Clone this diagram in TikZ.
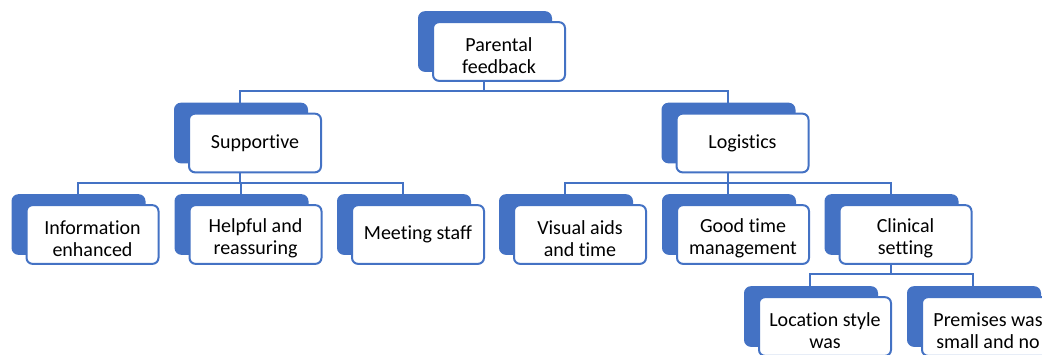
\documentclass[tikz,border=0pt]{standalone}
\usepackage{fontspec}
\setmainfont{Carlito}[Ligatures=NoCommon]
\usetikzlibrary{shadows,calc}
\definecolor{wordblue}{HTML}{4472C4}

\begin{document}
\begin{tikzpicture}[x=0.75pt,y=-0.75pt,
    box/.style={draw=wordblue, line width=1.5pt, fill=white, rounded corners=4.5pt,
        minimum width=99pt, minimum height=44pt, align=center, inner sep=2pt,
        font=\fontsize{15}{16.5}\selectfont,
        copy shadow={shadow xshift=-10.5pt, shadow yshift=7.5pt, fill=wordblue, draw=wordblue}},
    pair/.style={box, text height=33pt},
    link/.style={draw=wordblue, line width=1.5pt}]
    \useasboundingbox (0,0) rectangle (1042,354);
    \clip (0,0) rectangle (1042,354);

    \node at (499,51.5) [pair] (fb) {Parental\\feedback};

    \node at (255,143) [box] (sup) {Supportive};
    \node at (742.5,143) [box] (log) {Logistics};

    \node at (92.5,234.5) [pair] (info) {Information\\enhanced};
    \node at (255.5,234.5) [pair] (help) {Helpful and\\reassuring};
    \node at (418,234.5) [box] (meet) {Meeting staff};
    \node at (580,234.5) [pair] (vis) {Visual aids\\and time};
    \node at (743,234.5) [pair] (good) {Good time\\management};
    \node at (905.5,234.5) [pair] (clin) {Clinical\\setting};

    \node at (825,326.5) [pair] (loc) {Location style\\was};
    \node at (988,326.5) [pair] (prem) {Premises was\\small and no};

    % top level
    \draw[link] ($(fb.south)+(-15,0)$) -- ++(0,9) -| ($(sup.north)+(-15,-10)$);
    \draw[link] ($(fb.south)+(-15,0)$) -- ++(0,9) -| ($(log.north)+(-15,-10)$);
    % supportive
    \draw[link] ($(sup.south)+(-15,0)$) -- ++(0,10) -| ($(info.north)+(-15,-10)$);
    \draw[link] ($(sup.south)+(-15,0)$) -- ++(0,10) -| ($(help.north)+(-15,-10)$);
    \draw[link] ($(sup.south)+(-15,0)$) -- ++(0,10) -| ($(meet.north)+(-15,-10)$);
    % logistics
    \draw[link] ($(log.south)+(-15,0)$) -- ++(0,10) -| ($(vis.north)+(-15,-10)$);
    \draw[link] ($(log.south)+(-15,0)$) -- ++(0,10) -| ($(good.north)+(-15,-10)$);
    \draw[link] ($(log.south)+(-15,0)$) -- ++(0,10) -| ($(clin.north)+(-15,-10)$);
    % clinical setting
    \draw[link] ($(clin.south)+(-15,0)$) -- ++(0,9) -| ($(loc.north)+(-15,-10)$);
    \draw[link] ($(clin.south)+(-15,0)$) -- ++(0,9) -| ($(prem.north)+(-15,-10)$);
\end{tikzpicture}
\end{document}
